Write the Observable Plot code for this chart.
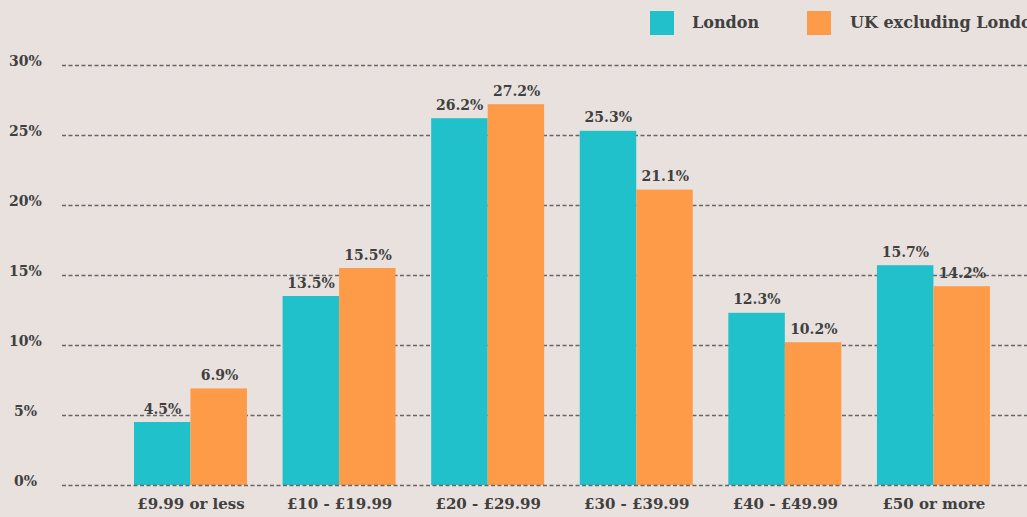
<!DOCTYPE html>
<html>
<head>
<meta charset="utf-8">
<script src="https://cdn.jsdelivr.net/npm/d3@7"></script>
<script src="https://cdn.jsdelivr.net/npm/@observablehq/plot@0.6"></script>
<style>
  html, body { margin: 0; padding: 0; background: #e8e1de; overflow: hidden; width: 1027px; height: 517px; }
  #legend { position: relative; height: 45px; width: 1027px; overflow: hidden; font-family: "DejaVu Serif", serif; font-weight: bold; font-size: 16px; color: #404040; }
  .sw { position: absolute; top: 11px; width: 24px; height: 24px; }
  .lt { position: absolute; top: 12px; white-space: nowrap; line-height: 22px; }
  svg { display: block; }
</style>
</head>
<body>
<div id="legend"></div>
<div id="chart"></div>
<script>
const categories = ["£9.99 or less", "£10 - £19.99", "£20 - £29.99", "£30 - £39.99", "£40 - £49.99", "£50 or more"];
const london = [4.5, 13.5, 26.2, 25.3, 12.3, 15.7];
const ukExLondon = [6.9, 15.5, 27.2, 21.1, 10.2, 14.2];
const seriesNames = ["London", "UK excluding London"];
const seriesColors = ["#21c1cb", "#fe9b48"];
const yTicks = [0, 5, 10, 15, 20, 25, 30];

const londonRows = categories.map((c, i) => ({category: c, value: london[i]}));
const ukRows = categories.map((c, i) => ({category: c, value: ukExLondon[i]}));

// legend
const legend = document.getElementById("legend");
const legendPos = [[650, 692], [807, 850]];
seriesNames.forEach((name, i) => {
  const sw = document.createElement("div");
  sw.className = "sw";
  sw.style.left = legendPos[i][0] + "px";
  sw.style.background = seriesColors[i];
  legend.appendChild(sw);
  const t = document.createElement("div");
  t.className = "lt";
  t.style.left = legendPos[i][1] + "px";
  t.textContent = name;
  legend.appendChild(t);
});

const half = 56.5;
const fmt = d => d.toFixed(1) + "%";

const chart = Plot.plot({
  width: 1027,
  height: 472,
  marginTop: 20,
  marginBottom: 32,
  marginLeft: 62,
  marginRight: 0,
  style: {background: "transparent", fontFamily: "DejaVu Serif, serif", color: "#404040"},
  x: {domain: categories, paddingInner: 0.2396, paddingOuter: 0.367, align: 0.66, round: false, label: null},
  y: {domain: [0, 30], label: null},
  marks: [
    Plot.ruleY(yTicks.filter(d => d > 0), {stroke: "#666", strokeWidth: 1.3, strokeDasharray: "4,2.5"}),
    Plot.barY(londonRows, {x: "category", y: "value", fill: seriesColors[0], insetRight: half}),
    Plot.barY(ukRows, {x: "category", y: "value", fill: seriesColors[1], insetLeft: half}),
    Plot.ruleY([0], {stroke: "#666", strokeWidth: 1.3, strokeDasharray: "4,2.5"}),
    Plot.text(londonRows, {x: "category", y: "value", text: d => fmt(d.value), dx: -28.5, dy: -9, lineAnchor: "bottom", fill: "#404040", fontSize: 14, fontWeight: "bold"}),
    Plot.text(ukRows, {x: "category", y: "value", text: d => fmt(d.value), dx: 28.5, dy: -9, lineAnchor: "bottom", fill: "#404040", fontSize: 14, fontWeight: "bold"}),
    Plot.axisY({ticks: yTicks, tickFormat: d => d + "%", tickSize: 0, tickPadding: 37, textAnchor: "middle", dy: -4, fontSize: 14, fontWeight: "bold", fill: "#404040", label: null}),
    Plot.axisX({tickSize: 0, tickPadding: 13, fontSize: 15, fontWeight: "bold", fill: "#404040", label: null})
  ]
});
document.getElementById("chart").appendChild(chart);
</script>
</body>
</html>
